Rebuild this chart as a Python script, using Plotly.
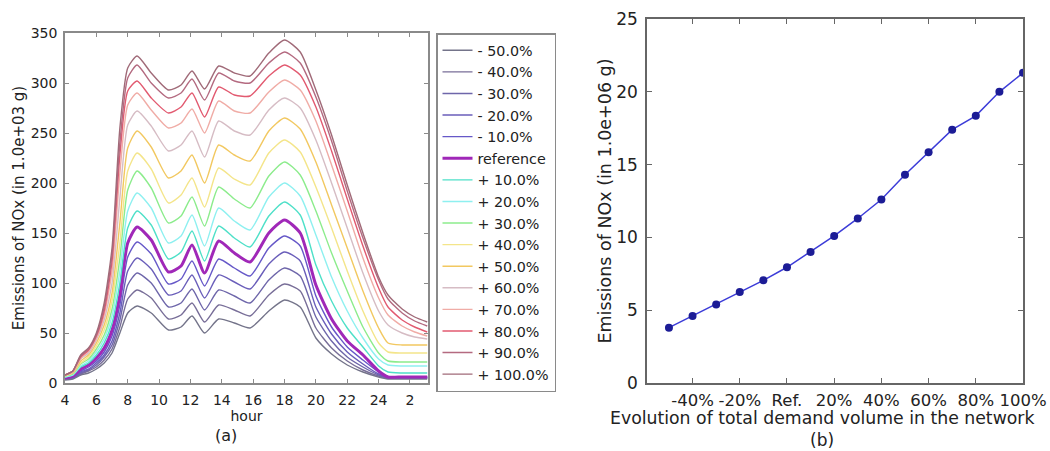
import plotly.graph_objects as go

# ---------------- data: panel (a) ----------------
hours = [4, 4.5, 5, 5.5, 6, 6.5, 7, 7.5, 8, 8.6, 9.5, 10.6, 11.4, 12.1, 12.9, 13.8, 14.8,
         15.8, 17, 18, 19, 20, 21, 22, 23, 24, 24.6, 25.5, 26.3, 27.1]
hour_tickvals = [4, 6, 8, 10, 12, 14, 16, 18, 20, 22, 24, 26]
hour_ticktext = ["4", "6", "8", "10", "12", "14", "16", "18", "20", "22", "24", "2"]

series_names = ["- 50.0%", "- 40.0%", "- 30.0%", "- 20.0%", "- 10.0%", "reference",
                "+ 10.0%", "+ 20.0%", "+ 30.0%", "+ 40.0%", "+ 50.0%", "+ 60.0%",
                "+ 70.0%", "+ 80.0%", "+ 90.0%", "+ 100.0%"]

m50 = [3, 4, 8, 10, 14, 20, 30, 50, 70, 77, 70, 53, 56, 67, 50, 64, 60, 55, 72, 83, 76, 45, 29, 18, 11, 6, 4, 4, 4, 4]
m40 = [4, 5, 9, 12, 16, 23, 34, 56, 84, 93, 85, 64, 68, 80, 61, 78, 73, 67, 88, 99, 92, 55, 35, 22, 13, 7, 5, 5, 5, 5]
m30 = [4, 5, 10, 13, 18, 26, 38, 63, 98, 110, 100, 76, 80, 94, 73, 93, 87, 80, 103, 115, 107, 66, 42, 26, 16, 8, 5, 5, 5, 5]
m20 = [5, 6, 11, 14, 20, 28, 42, 70, 112, 125, 114, 88, 92, 108, 85, 108, 101, 94, 119, 131, 122, 76, 49, 31, 19, 9, 6, 6, 6, 6]
m10 = [5, 6, 12, 16, 22, 31, 47, 78, 126, 141, 129, 99, 104, 122, 97, 124, 115, 107, 135, 147, 137, 87, 56, 36, 23, 11, 6, 6, 6, 6]
ref = [5, 7, 14, 18, 25, 35, 53, 88, 140, 156, 143, 111, 117, 138, 110, 142, 130, 121, 150, 163, 150, 98, 64, 42, 28, 12, 6, 6, 6, 6]
p10 = [6, 8, 16, 20, 28, 40, 60, 100, 155, 172, 158, 124, 131, 152, 122, 157, 145, 136, 167, 181, 168, 118, 82, 55, 36, 17, 11, 10, 10, 10]
p20 = [6, 8, 17, 22, 31, 44, 67, 112, 172, 190, 175, 140, 147, 168, 137, 175, 162, 153, 186, 200, 187, 148, 106, 72, 45, 24, 18, 17, 17, 17]
p30 = [7, 9, 19, 24, 34, 48, 74, 125, 193, 212, 195, 160, 167, 186, 157, 196, 184, 175, 207, 221, 208, 172, 130, 92, 56, 30, 22, 21, 21, 21]
p40 = [7, 10, 20, 26, 37, 53, 82, 140, 212, 230, 214, 180, 188, 205, 176, 215, 204, 198, 230, 243, 231, 196, 155, 112, 72, 40, 31, 30, 30, 30]
p50 = [8, 10, 22, 28, 40, 58, 90, 160, 235, 252, 236, 205, 212, 228, 200, 238, 228, 222, 252, 265, 254, 221, 178, 135, 92, 55, 40, 38, 38, 38]
p60 = [8, 11, 24, 30, 43, 63, 100, 185, 258, 272, 257, 232, 238, 252, 226, 262, 252, 248, 273, 285, 275, 243, 200, 155, 110, 72, 58, 50, 46, 44]
p70 = [8, 11, 25, 32, 45, 68, 112, 210, 278, 290, 273, 255, 260, 274, 250, 282, 272, 270, 291, 303, 293, 262, 218, 172, 125, 85, 68, 57, 51, 47]
p80 = [8, 12, 26, 33, 47, 72, 122, 228, 292, 302, 285, 270, 276, 290, 266, 296, 288, 287, 307, 318, 308, 276, 232, 184, 137, 95, 76, 63, 56, 51]
p90 = [8, 12, 27, 34, 48, 76, 128, 240, 305, 318, 300, 285, 290, 304, 283, 310, 302, 300, 320, 331, 320, 286, 242, 192, 145, 103, 84, 70, 62, 57]
p100 = [8, 12, 28, 35, 50, 80, 135, 255, 315, 327, 310, 293, 298, 312, 294, 317, 310, 307, 330, 343, 331, 293, 248, 198, 150, 106, 88, 74, 66, 61]

series_values = [m50, m40, m30, m20, m10, ref, p10, p20, p30, p40, p50, p60, p70, p80, p90, p100]

# ---------------- data: panel (b) ----------------
demand_change = [-50, -40, -30, -20, -10, 0, 10, 20, 30, 40, 50, 60, 70, 80, 90, 100]
total_emissions = [3.8, 4.6, 5.4, 6.25, 7.05, 7.95, 9.0, 10.1, 11.3, 12.6, 14.3, 15.85, 17.4, 18.35, 20.0, 21.3]
demand_tickvals = [-40, -20, 0, 20, 40, 60, 80, 100]
demand_ticktext = ["-40%", "-20%", "Ref.", "20%", "40%", "60%", "80%", "100%"]

# ---------------- styles ----------------
colors = ["#74748a", "#786e98", "#6e66aa", "#6a5eba", "#6658c8", "#a028b8",
          "#4ee0c8", "#8ef0f0", "#8cec8c", "#f4e58a", "#f2c860", "#d6bcc4",
          "#f0aca6", "#e25a70", "#b46a80", "#a06a78"]
widths = [1.4] * 16
widths[5] = 3.0

W, H = 1050, 451
FONT = "DejaVu Sans, Bitstream Vera Sans, sans-serif"
TXT = "#222222"


def px_x(p):
    return p / W


def px_y(p):
    return (H - p) / H


fig = go.Figure()

for name, vals, c, w in zip(series_names, series_values, colors, widths):
    fig.add_trace(go.Scatter(
        x=hours, y=vals, name=name, mode="lines",
        line=dict(color=c, width=w, shape="spline", smoothing=0.6),
        xaxis="x", yaxis="y", showlegend=True,
    ))

fig.add_trace(go.Scatter(
    x=demand_change, y=total_emissions, mode="lines+markers",
    line=dict(color="#3c3cd8", width=1.5),
    marker=dict(color="#1c1c96", size=8),
    xaxis="x2", yaxis="y2", showlegend=False,
))

frame_a = "#8a8a8a"
frame_b = "#666666"

common = dict(showline=True, linewidth=1.5, showgrid=False, zeroline=False,
              mirror="ticks", ticks="inside", automargin=False)

fig.update_layout(
    width=W, height=H,
    margin=dict(l=0, r=0, t=0, b=0, autoexpand=False),
    paper_bgcolor="white", plot_bgcolor="white",
    font=dict(family=FONT, color=TXT, size=14),
    xaxis=dict(
        domain=[px_x(65), px_x(428)], anchor="y",
        range=[4, 27.15], tickvals=hour_tickvals, ticktext=hour_ticktext,
        ticklen=4, tickcolor=frame_a, linecolor=frame_a,
        tickfont=dict(size=14), ticklabelstandoff=3,
        title=dict(text="hour", font=dict(size=14), standoff=2),
        **common,
    ),
    yaxis=dict(
        domain=[px_y(383), px_y(33)], anchor="x",
        range=[0, 350], dtick=50,
        ticklen=4, tickcolor=frame_a, linecolor=frame_a,
        tickfont=dict(size=14), ticklabelstandoff=3,
        title=dict(text="Emissions of NOx (in 1.0e+03 g)", font=dict(size=15), standoff=2),
        **common,
    ),
    xaxis2=dict(
        domain=[px_x(647), px_x(1023)], anchor="y2",
        range=[-59.3, 100], tickvals=demand_tickvals, ticktext=demand_ticktext,
        ticklen=5, tickcolor=frame_b, linecolor=frame_b,
        tickfont=dict(size=16.5), ticklabelstandoff=1,
        **common,
    ),
    yaxis2=dict(
        domain=[px_y(383), px_y(19)], anchor="x2",
        range=[0, 25], dtick=5,
        ticklen=5, tickcolor=frame_b, linecolor=frame_b,
        tickfont=dict(size=17), ticklabelstandoff=4,
        title=dict(text="Emissions of NOx (in 1.0e+06 g)", font=dict(size=17.5), standoff=0),
        **common,
    ),
    legend=dict(
        x=px_x(436), y=px_y(33), xanchor="left", yanchor="top",
        bordercolor=frame_a, borderwidth=1.5, bgcolor="white",
        font=dict(size=14.3, color=TXT), tracegroupgap=0,
    ),
    annotations=[
        dict(text="Evolution of total demand volume in the network",
             x=px_x(822), y=px_y(418), xref="paper", yref="paper",
             showarrow=False, font=dict(size=17.3), xanchor="center", yanchor="middle"),
        dict(text="(a)", x=px_x(226), y=px_y(435), xref="paper", yref="paper",
             showarrow=False, font=dict(size=16), xanchor="center", yanchor="middle"),
        dict(text="(b)", x=px_x(822), y=px_y(440), xref="paper", yref="paper",
             showarrow=False, font=dict(size=17), xanchor="center", yanchor="middle"),
    ],
)

fig.write_html("out.html", config={"displayModeBar": False},
               post_script="document.body.style.margin='0px';document.body.style.overflow='hidden';")
